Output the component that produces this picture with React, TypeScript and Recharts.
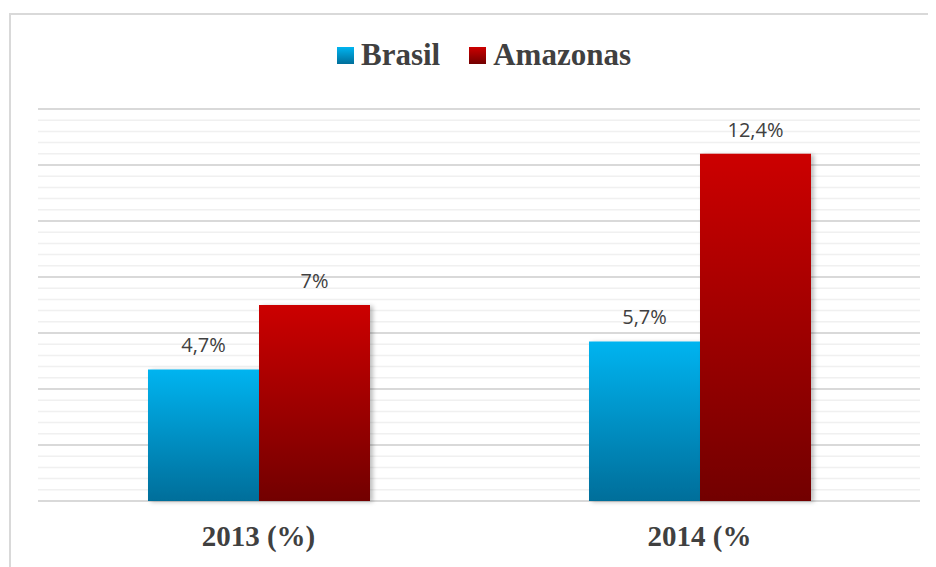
import React from "react";
import { BarChart, Bar, XAxis, YAxis, CartesianGrid, LabelList } from "recharts";

const categories = ["2013 (%)", "2014 (%"];
const brasil = [4.7, 5.7];
const amazonas = [7, 12.4];
const brasilLabels = ["4,7%", "5,7%"];
const amazonasLabels = ["7%", "12,4%"];

// minor gridline every 0.4, major every 2
const yTicks = Array.from({ length: 36 }, (_, i) => +(i * 0.4).toFixed(1));

const data = categories.map((name, i) => ({
  name,
  brasil: brasil[i],
  amazonas: amazonas[i],
  brasilLabel: brasilLabels[i],
  amazonasLabel: amazonasLabels[i],
}));

const gridLine = (props: any) => {
  const major = props.index % 5 === 0;
  return (
    <line
      key={props.key}
      x1={props.x1}
      x2={props.x2}
      y1={props.y1}
      y2={props.y2}
      stroke={major ? "#d9d9d9" : "#f0f0f0"}
      strokeWidth={major ? 2 : 1.5}
    />
  );
};

const XTick = (props: any) => {
  const { x, y, payload } = props;
  return (
    <text
      x={x}
      y={y + 37}
      textAnchor="middle"
      fill="#404040"
      fontFamily="'Liberation Serif', serif"
      fontWeight="bold"
      fontSize={29}
    >
      {payload.value}
    </text>
  );
};

const labelStyle = {
  fontFamily: "'Open Sans', sans-serif",
  fontSize: 20,
  fill: "#404040",
};

function LegendItem({ label, from, to }: { label: string; from: string; to: string }) {
  return (
    <div style={{ display: "flex", alignItems: "center" }}>
      <span
        style={{
          display: "inline-block",
          width: 17,
          height: 17,
          marginRight: 7,
          background: `linear-gradient(${from}, ${to})`,
        }}
      />
      <span>{label}</span>
    </div>
  );
}

export default function App() {
  return (
    <div style={{ position: "relative", width: 928, height: 559, overflow: "hidden", background: "#fff" }}>
      <div
        style={{
          position: "absolute",
          left: 1,
          top: 5,
          width: 1000,
          height: 1000,
          borderTop: "2px solid #d9d9d9",
          borderLeft: "2px solid #d9d9d9",
        }}
      />
      <div
        style={{
          position: "absolute",
          top: 28,
          left: 0,
          width: 952,
          display: "flex",
          justifyContent: "center",
          gap: 29,
          fontFamily: "'Liberation Serif', serif",
          fontWeight: "bold",
          fontSize: 31,
          color: "#404040",
          lineHeight: "38px",
        }}
      >
        <LegendItem label="Brasil" from="#00b4f0" to="#006e9a" />
        <LegendItem label="Amazonas" from="#cc0000" to="#720000" />
      </div>
      <div style={{ position: "absolute", left: 0, top: 0 }}>
        <BarChart
          width={928}
          height={559}
          data={data}
          margin={{ top: 101, right: 16, bottom: 0, left: 30 }}
          barGap={0}
        >
          <defs>
            <linearGradient id="gBrasil" x1="0" y1="0" x2="0" y2="1">
              <stop offset="0%" stopColor="#00b4f0" />
              <stop offset="100%" stopColor="#006e9a" />
            </linearGradient>
            <linearGradient id="gAmazonas" x1="0" y1="0" x2="0" y2="1">
              <stop offset="0%" stopColor="#cc0000" />
              <stop offset="100%" stopColor="#720000" />
            </linearGradient>
            <filter id="barShadow" x="-10%" y="-10%" width="130%" height="120%">
              <feDropShadow dx={3} dy={1} stdDeviation={2} floodColor="#000" floodOpacity={0.25} />
            </filter>
          </defs>
          <CartesianGrid vertical={false} horizontal={gridLine} />
          <XAxis
            dataKey="name"
            axisLine={false}
            tickLine={false}
            height={66}
            tick={<XTick />}
            interval={0}
          />
          <YAxis hide domain={[0, 14]} ticks={yTicks} interval={0} />
          <Bar
            dataKey="brasil"
            fill="url(#gBrasil)"
            barSize={111}
            filter="url(#barShadow)"
            isAnimationActive={false}
          >
            <LabelList dataKey="brasilLabel" position="top" offset={17} style={labelStyle} />
          </Bar>
          <Bar
            dataKey="amazonas"
            fill="url(#gAmazonas)"
            barSize={111}
            filter="url(#barShadow)"
            isAnimationActive={false}
          >
            <LabelList dataKey="amazonasLabel" position="top" offset={17} style={labelStyle} />
          </Bar>
        </BarChart>
      </div>
    </div>
  );
}
